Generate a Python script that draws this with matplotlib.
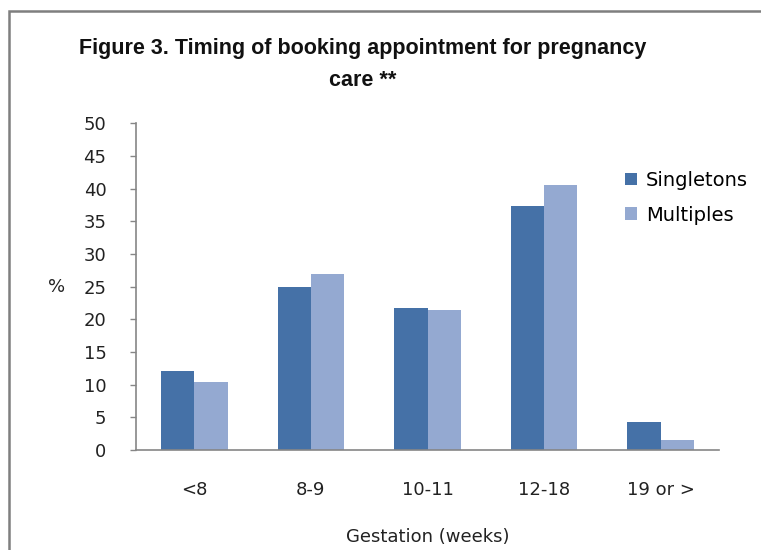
import numpy as np
import matplotlib
matplotlib.use("Agg")
import matplotlib.pyplot as plt
from matplotlib.patches import Rectangle

categories = ["<8", "8-9", "10-11", "12-18", "19 or >"]
singletons = [12.1, 24.9, 21.8, 37.3, 4.3]
multiples = [10.4, 26.9, 21.4, 40.5, 1.5]
series_names = ["Singletons", "Multiples"]
y_ticks = [0, 5, 10, 15, 20, 25, 30, 35, 40, 45, 50]

dark_blue = "#4571A7"
light_blue = "#94A9D1"
grey = "#868686"

plt.rcParams["font.family"] = ["DejaVu Sans"]

fig = plt.figure(figsize=(7.61, 5.5), dpi=100)
ax = fig.add_axes([136 / 761, 1 - 450 / 550, 583 / 761, (450 - 123.3) / 550])

x = np.arange(len(categories))
width = 0.2857
ax.bar(x - width / 2, singletons, width, color=dark_blue, label=series_names[0])
ax.bar(x + width / 2, multiples, width, color=light_blue, label=series_names[1])

ax.set_xlim(-0.5, len(categories) - 0.5)
ax.set_ylim(0, 50)
ax.set_yticks(y_ticks)
ax.set_xticks(x)
ax.set_xticklabels(categories)

for side in ["top", "right"]:
    ax.spines[side].set_visible(False)
for side in ["left", "bottom"]:
    ax.spines[side].set_color(grey)
    ax.spines[side].set_linewidth(1.2)

ax.tick_params(axis="y", direction="out", length=4.3, width=1, color=grey,
               labelsize=13, pad=17, labelcolor="#222222")
ax.tick_params(axis="x", length=0, labelsize=13, pad=22, labelcolor="#222222")

ax.set_xlabel("Gestation (weeks)", fontsize=13, labelpad=21, color="#222222")
ax.set_ylabel("%", rotation=0, fontsize=13, color="#222222", va="center", ha="center")
ax.yaxis.set_label_coords(-0.137, 0.5)

ax.legend(loc="upper left", bbox_to_anchor=(625 / 761, 1 - 171 / 550),
          bbox_transform=fig.transFigure, frameon=False, fontsize=14,
          handlelength=0.62, handleheight=0.62, handletextpad=0.45,
          labelspacing=0.8, borderpad=0, borderaxespad=0)

fig.text(362.5 / 761, 1 - 38 / 550,
         "Figure 3. Timing of booking appointment for pregnancy\ncare **",
         ha="center", va="top", multialignment="center", fontsize=15.5,
         fontweight="bold", family=["Liberation Sans", "DejaVu Sans"],
         linespacing=1.7, color="#111111")

# outer chart frame
fig.patches.append(Rectangle((9 / 761, -0.1), 1.2, 1.1 - 11 / 550,
                             transform=fig.transFigure, fill=False,
                             edgecolor="#7f7f7f", linewidth=1.8, clip_on=False))

fig.savefig("out.png", dpi=100)
